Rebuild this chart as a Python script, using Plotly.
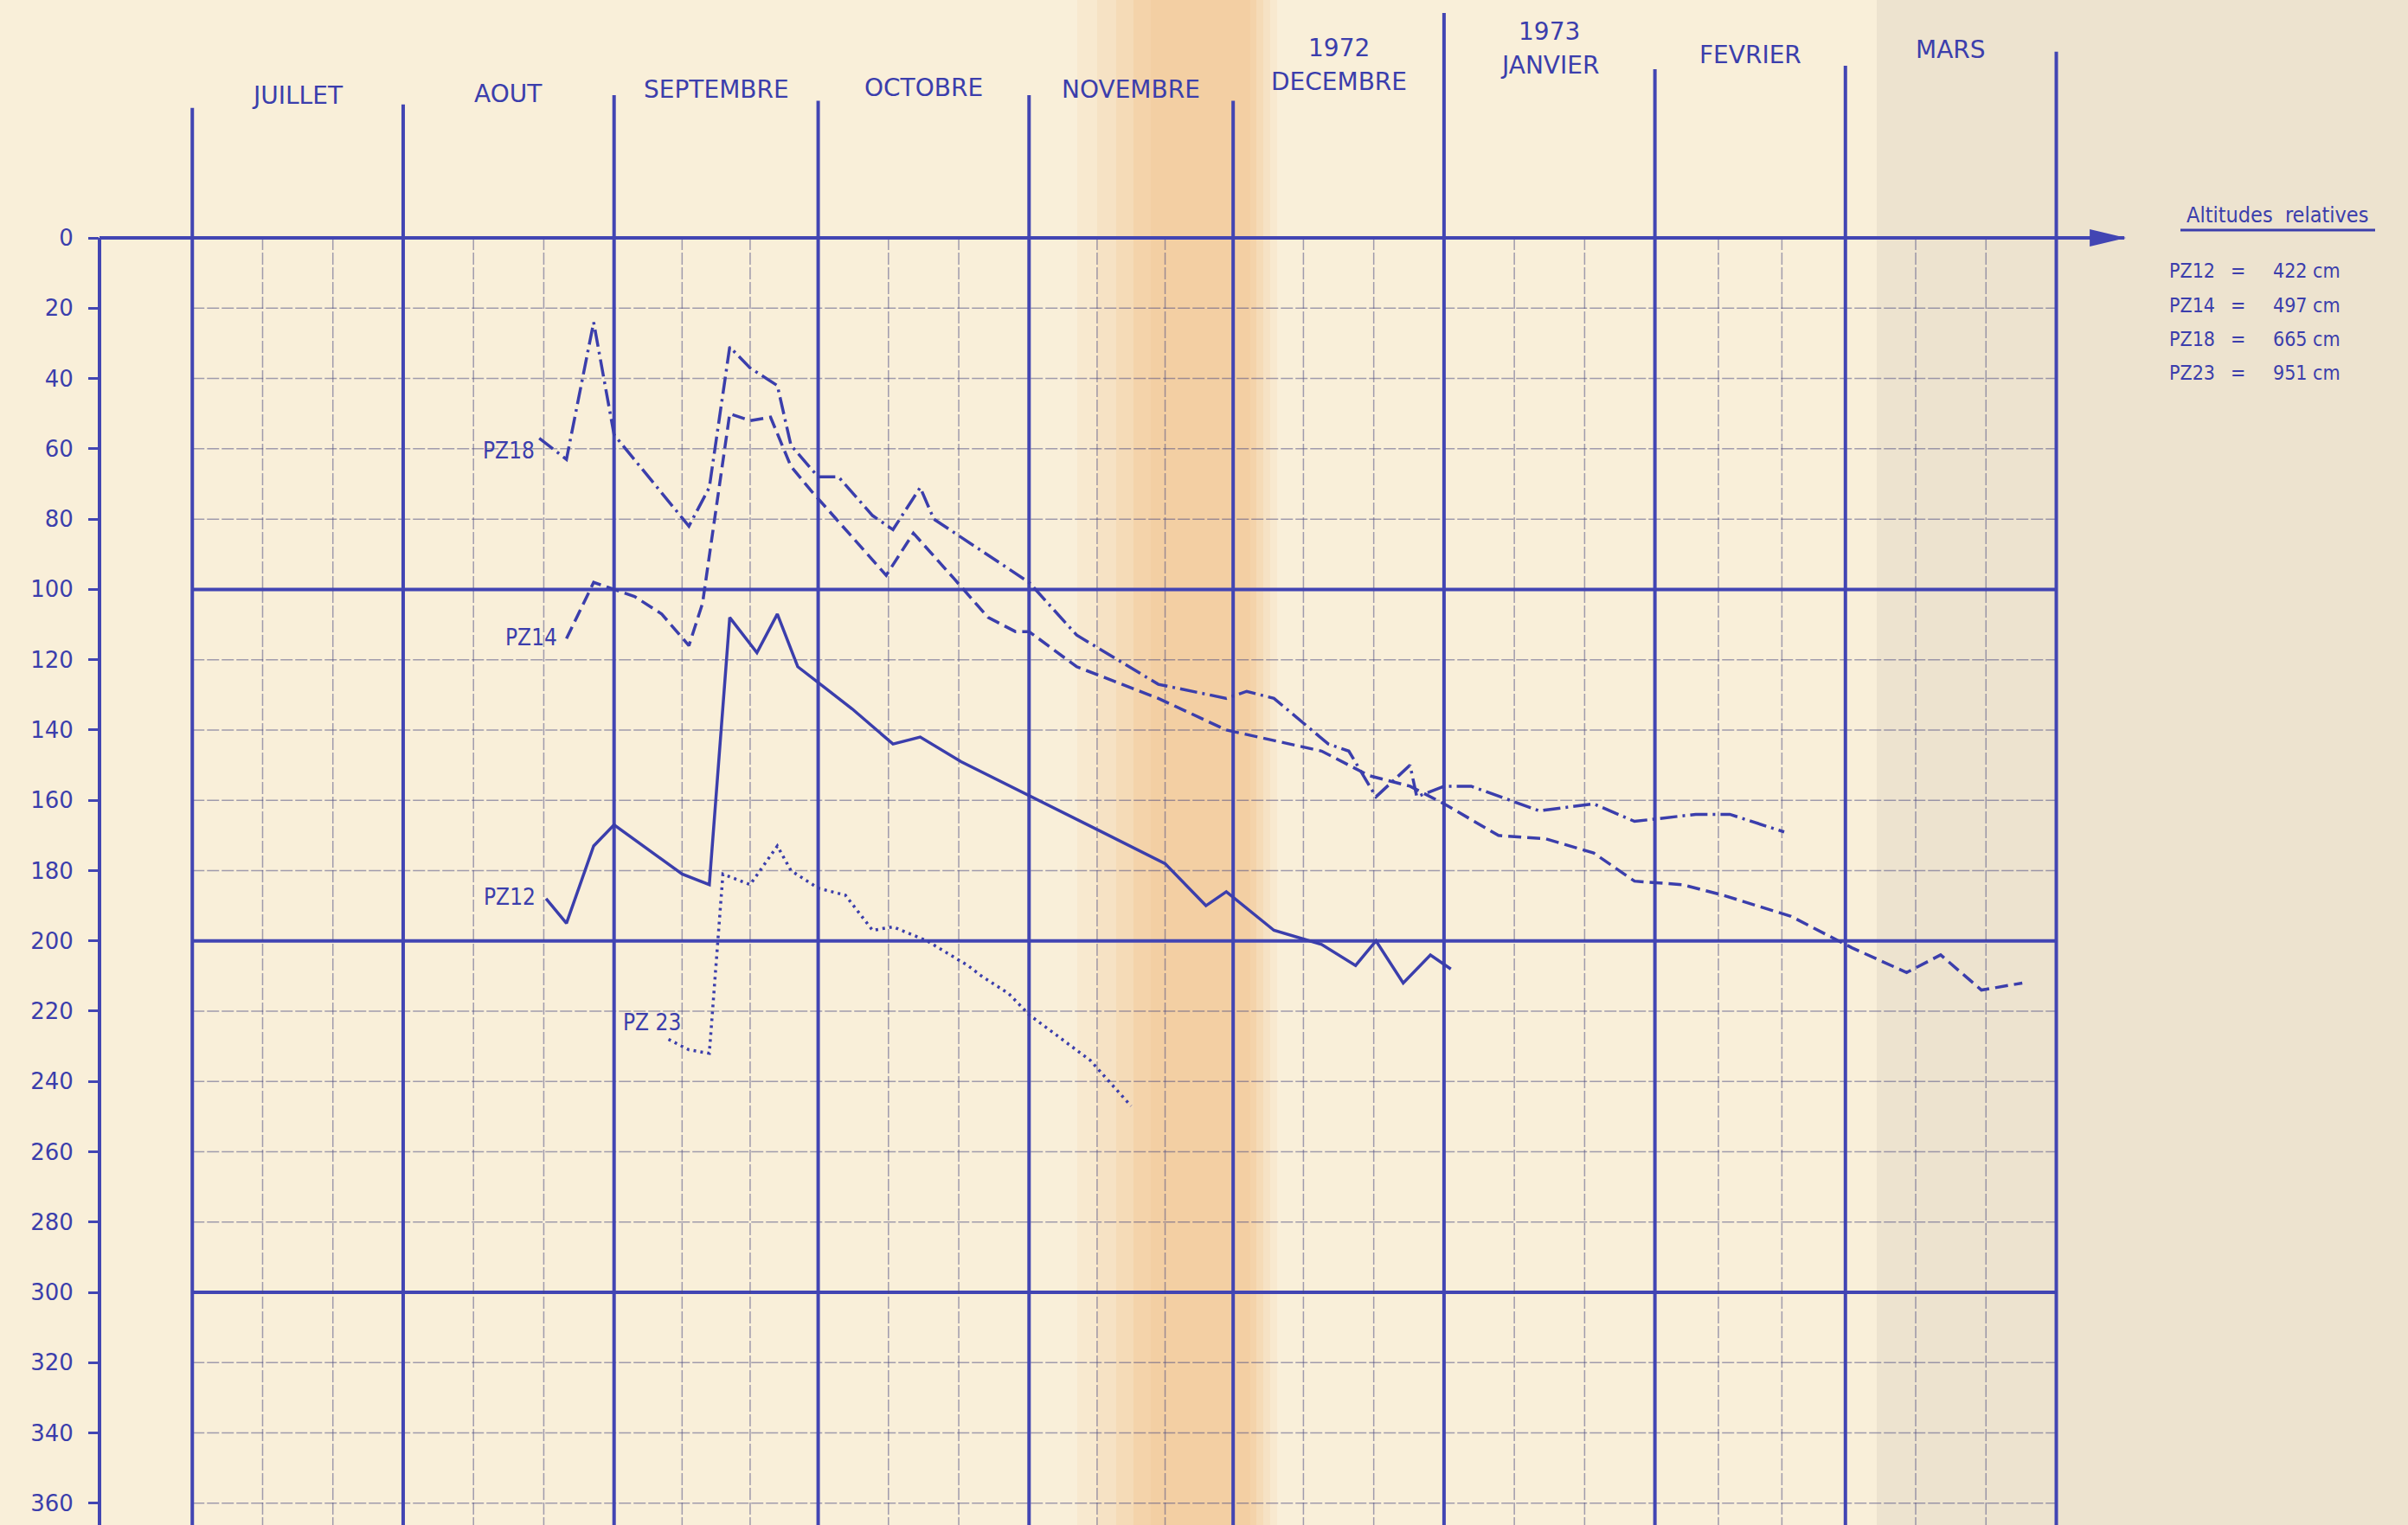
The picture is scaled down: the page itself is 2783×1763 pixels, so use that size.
import pandas as pd
import plotly.graph_objects as go

# Niveaux piezometriques (profondeur, cm) - juillet 1972 a mars 1973
pz12_dates = ["1972-08-22", "1972-08-25", "1972-08-29", "1972-09-01", "1972-09-11",
              "1972-09-15", "1972-09-18", "1972-09-22", "1972-09-25", "1972-09-28",
              "1972-10-02", "1972-10-06", "1972-10-12", "1972-10-16", "1972-10-22",
              "1972-11-21", "1972-11-27", "1972-11-30", "1972-12-07", "1972-12-14",
              "1972-12-19", "1972-12-22", "1972-12-26", "1972-12-30", "1973-01-02"]
pz12_depth = [188, 195, 173, 167, 181, 184, 108, 118, 107, 122,
              128, 134, 144, 142, 149, 178, 190, 186, 197, 201,
              207, 200, 212, 204, 208]

pz14_dates = ["1972-08-25", "1972-08-29", "1972-09-01", "1972-09-04", "1972-09-08",
              "1972-09-12", "1972-09-14", "1972-09-18", "1972-09-21", "1972-09-24",
              "1972-09-27", "1972-09-30", "1972-10-11", "1972-10-15", "1972-10-21",
              "1972-10-26", "1972-10-30", "1972-11-01", "1972-11-08", "1972-11-12",
              "1972-11-20", "1972-11-30", "1972-12-14", "1972-12-21", "1972-12-27",
              "1973-01-01", "1973-01-09", "1973-01-16", "1973-01-23", "1973-01-29",
              "1973-02-05", "1973-02-11", "1973-02-21", "1973-03-02", "1973-03-10",
              "1973-03-15", "1973-03-21", "1973-03-27"]
pz14_depth = [114, 98, 100, 102, 107, 116, 104, 50, 52, 51,
              65, 72, 96, 84, 97, 108, 112, 112, 122, 125,
              131, 140, 146, 153, 156, 161, 170, 171, 175, 183,
              184, 187, 193, 202, 209, 204, 214, 212]

pz18_dates = ["1972-08-21", "1972-08-25", "1972-08-29", "1972-09-01", "1972-09-12",
              "1972-09-15", "1972-09-18", "1972-09-21", "1972-09-25", "1972-09-27",
              "1972-10-01", "1972-10-04", "1972-10-09", "1972-10-12", "1972-10-16",
              "1972-10-18", "1972-11-01", "1972-11-08", "1972-11-20", "1972-11-30",
              "1972-12-03", "1972-12-07", "1972-12-15", "1972-12-18", "1972-12-22",
              "1972-12-27", "1972-12-28", "1973-01-01", "1973-01-05", "1973-01-15",
              "1973-01-23", "1973-01-29", "1973-02-07", "1973-02-12", "1973-02-20"]
pz18_depth = [57, 63, 24, 56, 82, 71, 31, 37, 42, 59,
              68, 68, 79, 83, 71, 80, 98, 113, 127, 131,
              129, 131, 144, 146, 159, 150, 159, 156, 156, 163,
              161, 166, 164, 164, 169]

pz23_dates = ["1972-09-09", "1972-09-12", "1972-09-15", "1972-09-17", "1972-09-21",
              "1972-09-25", "1972-09-27", "1972-10-01", "1972-10-05", "1972-10-09",
              "1972-10-12", "1972-10-17", "1972-10-23", "1972-10-25", "1972-10-29",
              "1972-11-01", "1972-11-10", "1972-11-16"]
pz23_depth = [228, 231, 232, 181, 184, 173, 180, 185, 187, 197,
              196, 200, 207, 210, 215, 221, 234, 247]

series_names = ["PZ12", "PZ14", "PZ18", "PZ23"]
altitudes_cm = [422, 497, 665, 951]

month_names = ["JUILLET", "AOUT", "SEPTEMBRE", "OCTOBRE", "NOVEMBRE",
               "DECEMBRE", "JANVIER", "FEVRIER", "MARS"]
month_bounds = ["1972-07-01", "1972-08-01", "1972-09-01", "1972-10-01", "1972-11-01",
                "1972-12-01", "1973-01-01", "1973-02-01", "1973-03-01", "1973-04-01"]
year_labels = {"DECEMBRE": "1972", "JANVIER": "1973"}
depth_ticks = list(range(0, 361, 20))

# ---- styling -----------------------------------------------------------
INK = "#3b3eac"
RULE = "#4245b3"
GRID = "rgba(72,72,128,0.5)"
PAPER = "#f9efd9"
TEXT_FONT = "DejaVu Sans"
COND_FONT = "DejaVu Sans Condensed, DejaVu Sans"

W, H = 2783, 1763
LEFT = 115
Y_TOP, Y_BOTTOM = -67.7, 366.2
t0 = pd.Timestamp("1972-07-01")
x_range = [str(t0 + pd.Timedelta(days=-13.64)), str(t0 + pd.Timedelta(days=325.7))]

month_line_top = [-37, -38, -40.6, -39, -40.6, -39, -64, -48, -49, -53]
month_label_y = [-40.6, -41, -42.3, -42.8, -42.3, -44.5, -49, -52, -53.6]
year_label_y = {"DECEMBRE": -54, "JANVIER": -58.8}


def px_x(p):
    return (p - LEFT) / (W - LEFT)


def px_y(p):
    return 1 - p / H


series = {
    "PZ12": (pz12_dates, pz12_depth, "solid"),
    "PZ14": (pz14_dates, pz14_depth, "15px,7px"),
    "PZ18": (pz18_dates, pz18_depth, "20px,6px,3px,6px"),
    "PZ23": (pz23_dates, pz23_depth, "3px,5px"),
}
curve_label = {
    "PZ18": ("PZ18", "1972-08-16 12:00", 60.5),
    "PZ14": ("PZ14", "1972-08-19 19:00", 113.7),
    "PZ12": ("PZ12", "1972-08-16 17:00", 187.4),
    "PZ23": ("PZ 23", "1972-09-06 14:00", 223.1),
}

fig = go.Figure()
for name in series_names:
    d, v, dash = series[name]
    fig.add_trace(go.Scatter(x=d, y=v, mode="lines", name=name,
                             line=dict(color=INK, width=3.5, dash=dash),
                             hoverinfo="x+y+name"))

shapes = []

# paper: taped sheet on the right and the sun-faded fold in the middle
shapes.append(dict(type="rect", xref="paper", yref="paper", x0=px_x(2169), x1=1.0,
                   y0=0, y1=1, fillcolor="rgb(237,227,207)", line=dict(width=0), layer="below"))
for a, b, op in [(1245, 1476, 0.07), (1268, 1468, 0.09), (1290, 1460, 0.11),
                 (1310, 1452, 0.13), (1330, 1445, 0.08)]:
    shapes.append(dict(type="rect", xref="paper", yref="paper", x0=px_x(a), x1=px_x(b),
                       y0=0, y1=1, fillcolor="rgb(238,160,85)", opacity=op,
                       line=dict(width=0), layer="below"))

# horizontal rulings every 20 cm, heavier every metre
for v in depth_ticks[1:]:
    major = v % 100 == 0
    shapes.append(dict(type="line", xref="x", yref="y", x0=month_bounds[0], x1=month_bounds[-1],
                       y0=v, y1=v, layer="below",
                       line=dict(color=RULE if major else GRID, width=4 if major else 1.5,
                                 dash="solid" if major else "14px,3px")))

# three decades per month
for a, b in zip(month_bounds[:-1], month_bounds[1:]):
    ta, tb = pd.Timestamp(a), pd.Timestamp(b)
    for k in (1, 2):
        t = ta + (tb - ta) * k / 3
        shapes.append(dict(type="line", xref="x", yref="y", x0=str(t), x1=str(t),
                           y0=0, y1=400, layer="below",
                           line=dict(color=GRID, width=1.5, dash="14px,3px")))

# month boundaries
for b, top in zip(month_bounds, month_line_top):
    shapes.append(dict(type="line", xref="x", yref="y", x0=b, x1=b, y0=top, y1=400,
                       layer="below", line=dict(color=RULE, width=4)))

# datum line with arrow, and the depth axis
arrow_tip = "1973-04-11"
shapes.append(dict(type="line", xref="x", yref="y", x0=str(t0 + pd.Timedelta(days=-15.2)),
                   x1=arrow_tip, y0=0, y1=0, layer="below", line=dict(color=RULE, width=4)))
shapes.append(dict(type="path", xref="x", yref="y", xsizemode="pixel", ysizemode="pixel",
                   xanchor=arrow_tip, yanchor=0, path="M-40,-10 L2,0 L-40,10 Z",
                   fillcolor=RULE, line=dict(width=0)))
shapes.append(dict(type="line", xref="paper", yref="y", x0=0, x1=0, y0=0, y1=Y_BOTTOM,
                   line=dict(color=RULE, width=4)))

# underline of the legend title
shapes.append(dict(type="line", xref="paper", yref="paper", x0=px_x(2520), x1=px_x(2745),
                   y0=px_y(266), y1=px_y(266), line=dict(color=INK, width=3)))

annotations = []
for i, name in enumerate(month_names):
    ta, tb = pd.Timestamp(month_bounds[i]), pd.Timestamp(month_bounds[i + 1])
    mid = str(ta + (tb - ta) / 2)
    annotations.append(dict(x=mid, y=month_label_y[i], xref="x", yref="y", text=name,
                            xanchor="center", yanchor="middle", showarrow=False,
                            font=dict(family=TEXT_FONT, size=28, color=INK)))
    if name in year_labels:
        annotations.append(dict(x=mid, y=year_label_y[name], xref="x", yref="y",
                                text=year_labels[name], xanchor="center", yanchor="middle",
                                showarrow=False,
                                font=dict(family=TEXT_FONT, size=28, color=INK)))

for name in series_names:
    txt, lx, ly = curve_label[name]
    annotations.append(dict(x=lx, y=ly, xref="x", yref="y", text=txt, showarrow=False,
                            xanchor="center", yanchor="middle",
                            font=dict(family=COND_FONT, size=26, color=INK)))

annotations.append(dict(x=px_x(2632), y=px_y(248), xref="paper", yref="paper",
                        text="Altitudes  relatives", xanchor="center", yanchor="middle",
                        showarrow=False, font=dict(family=COND_FONT, size=25, color=INK)))
row_y = [313, 353, 392, 431]
for name, alt, ry in zip(series_names, altitudes_cm, row_y):
    annotations.append(dict(x=px_x(2505), y=px_y(ry), xref="paper", yref="paper", text=name,
                            xanchor="left", yanchor="middle", showarrow=False,
                            font=dict(family=COND_FONT, size=23, color=INK)))
    annotations.append(dict(x=px_x(2586), y=px_y(ry), xref="paper", yref="paper", text="=",
                            xanchor="center", yanchor="middle", showarrow=False,
                            font=dict(family=COND_FONT, size=23, color=INK)))
    annotations.append(dict(x=px_x(2625), y=px_y(ry), xref="paper", yref="paper",
                            text=f"{alt} cm", xanchor="left", yanchor="middle", showarrow=False,
                            font=dict(family=COND_FONT, size=23, color=INK)))

fig.update_layout(
    width=W, height=H,
    margin=dict(l=LEFT, r=0, t=0, b=0),
    paper_bgcolor=PAPER, plot_bgcolor="rgba(0,0,0,0)",
    showlegend=False,
    shapes=shapes, annotations=annotations,
    xaxis=dict(type="date", range=x_range, visible=False),
    yaxis=dict(range=[Y_BOTTOM, Y_TOP], tickvals=depth_ticks, ticks="outside",
               ticklen=12, tickwidth=3, tickcolor=RULE, ticklabelstandoff=12,
               tickfont=dict(family=TEXT_FONT, size=26, color=INK),
               showgrid=False, zeroline=False, showline=False),
)

fig.write_html("out.html")
